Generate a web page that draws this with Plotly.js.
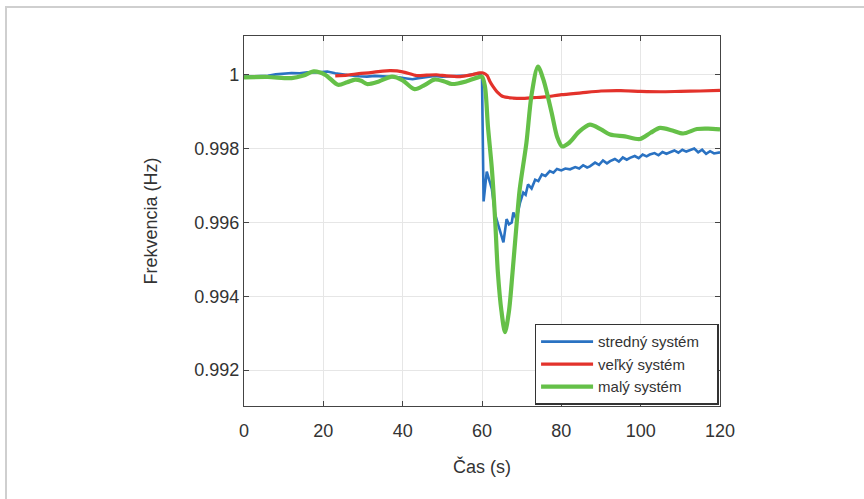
<!DOCTYPE html>
<html>
<head>
<meta charset="utf-8">
<script src="https://cdn.plot.ly/plotly-3.0.1.min.js"></script>
<style>
html,body{margin:0;padding:0;background:#fff;}
#frame{position:absolute;left:5px;top:6px;width:900px;height:600px;border-left:2px solid #cfcfcf;border-top:2px solid #cfcfcf;pointer-events:none;}
#chart{position:absolute;left:0;top:0;width:864px;height:499px;}
</style>
</head>
<body>
<div id="chart"></div>
<div id="frame"></div>
<script>
// Series names
const names = ["stredný systém", "veľký systém", "malý systém"];

// stredný systém (blue)
const tBlue = [0,2,4,6,8,10,12,14,16,18,20,21,23,25,27,29,31,33,35,37,39,41,42.5,44,46,48,50,52,54,56,58,59.5,60,60.4,61.2,62.5,63.3,64.3,65.4,66.2,66.8,67.5,67.9,68.7,69.6,70.4,71,71.6,72.5,73.4,74.2,75.1,76,77.1,78,78.9,80,81,82.2,83.5,84.5,85.5,86.5,87.2,88.5,89.5,90.5,91.5,92.3,93.5,94.5,95.5,96.5,97.3,98.5,99.5,100.5,101.5,102.3,103.5,104.5,105.5,106.5,107.4,108.5,109.5,110.5,111.5,112.4,113.5,114.5,115.5,116.5,117.5,118.5,120];
const vBlue = [0.99995,0.99996,0.99998,0.99997,1.00001,1.00003,1.00005,1.00004,1.00007,1.00006,1.00008,1.00009,1.00004,1.00000,0.99998,0.99996,0.99995,0.99997,0.99996,0.99995,0.99993,0.99990,0.99988,0.99991,0.99995,0.99997,0.99995,0.99996,0.99995,0.99998,1.00002,1.00003,0.99995,0.99657,0.99738,0.99690,0.99622,0.99585,0.99546,0.99609,0.99595,0.99600,0.99627,0.99609,0.99654,0.99681,0.99675,0.99703,0.99692,0.99716,0.99712,0.99730,0.99726,0.99739,0.99735,0.99745,0.99741,0.99746,0.99744,0.99750,0.99746,0.99755,0.99749,0.99752,0.99762,0.99756,0.99768,0.99760,0.99766,0.99772,0.99765,0.99776,0.99770,0.99775,0.99780,0.99774,0.99784,0.99779,0.99784,0.99788,0.99782,0.99791,0.99786,0.99790,0.99795,0.99789,0.99797,0.99792,0.99796,0.99800,0.99790,0.99797,0.99786,0.99793,0.99787,0.99790];

// veľký systém (red)
const tRed = [23,26,29,32,35,37,40,43.5,46,48.5,51,54.5,57,59.5,60.3,61.3,62,62.8,63.8,65.3,67.8,70,73,76,80,85,90,95,100,105,110,115,120];
const vRed = [0.99997,0.99999,1.00003,1.00006,1.00010,1.00011,1.00008,0.99998,0.99999,1.00000,0.99997,0.99995,0.99999,1.00005,1.00005,0.99998,0.99982,0.99968,0.99954,0.99941,0.99937,0.99936,0.99938,0.99940,0.99946,0.99951,0.99956,0.99957,0.99955,0.99954,0.99955,0.99956,0.99958];

// malý systém (green)
const tGreen = [0,6,12,15,17.6,20.5,23.7,26,28,29.5,31,34,37.3,40,43,45.5,48,50.5,52.4,56,59,60,60.75,61.5,62.5,63.3,64,64.9,65.8,66.8,67.7,68.6,69.5,71.2,72.5,74.1,75.5,77.5,79,80.2,82,84.5,87.2,90,92.3,96,99.8,102.5,104.9,108,110.7,114.2,117,120];
const vGreen = [0.99993,0.99994,0.99991,0.99998,1.00009,1.00000,0.99973,0.99980,0.99987,0.99984,0.99975,0.99982,0.99995,0.99985,0.99961,0.99972,0.99987,0.99982,0.99975,0.99982,0.99993,0.99995,0.99968,0.99860,0.99744,0.99609,0.99465,0.99360,0.99303,0.99360,0.99465,0.99580,0.99689,0.99816,0.99946,1.00022,0.99986,0.99900,0.99830,0.99806,0.99816,0.99846,0.99865,0.99852,0.99838,0.99833,0.99826,0.99843,0.99856,0.99849,0.99841,0.99853,0.99854,0.99852];

// axis ticks
const xTicks = [0,20,40,60,80,100,120];
const yTickVals = [0.992,0.994,0.996,0.998,1.0];
const yTickText = ["0.992","0.994","0.996","0.998","1"];

const FONT = "Liberation Sans, Arial, Helvetica, sans-serif";
const PAD = "\u00a0\u00a0\u00a0";

const traces = [
  {x:tBlue, y:vBlue, name:names[0]+PAD, type:"scatter", mode:"lines", line:{color:"#2a72c2", width:2.6}},
  {x:tRed, y:vRed, name:names[1]+PAD, type:"scatter", mode:"lines", line:{color:"#e3322b", width:3.2, shape:"spline", smoothing:0.6}},
  {x:tGreen, y:vGreen, name:names[2]+PAD, type:"scatter", mode:"lines", line:{color:"#65c048", width:4.2, shape:"spline", smoothing:0.8}}
];

const layout = {
  width:864, height:499,
  margin:{l:244, r:144, t:36, b:93, pad:0},
  paper_bgcolor:"#ffffff", plot_bgcolor:"#ffffff",
  font:{family:FONT, color:"#333333", size:16},
  showlegend:true,
  legend:{
    x:0.997, y:0.222, xanchor:"right", yanchor:"top",
    bgcolor:"#ffffff", bordercolor:"#333333", borderwidth:1.5,
    font:{family:FONT, size:15, color:"#333333"},
    traceorder:"normal", itemwidth:52
  },
  xaxis:{
    range:[0,120], tickvals:xTicks, ticks:"inside", ticklen:5, tickcolor:"#444",
    showline:true, linecolor:"#444", linewidth:1.2, mirror:"ticks",
    showgrid:true, gridcolor:"#e6e6e6", gridwidth:1, zeroline:false,
    tickfont:{family:FONT, size:18, color:"#333"}, ticklabelstandoff:8,
    title:{text:"Čas (s)", font:{family:FONT, size:18, color:"#333"}, standoff:20}
  },
  yaxis:{
    range:[0.99103,1.00105], tickvals:yTickVals, ticktext:yTickText, ticks:"inside", ticklen:5, tickcolor:"#444",
    showline:true, linecolor:"#444", linewidth:1.2, mirror:"ticks",
    showgrid:true, gridcolor:"#e6e6e6", gridwidth:1, zeroline:false,
    tickfont:{family:FONT, size:18, color:"#333"},
    title:{text:"Frekvencia (Hz)", font:{family:FONT, size:18, color:"#333"}, standoff:31}
  }
};

Plotly.newPlot("chart", traces, layout, {displayModeBar:false, staticPlot:true});
</script>
</body>
</html>
